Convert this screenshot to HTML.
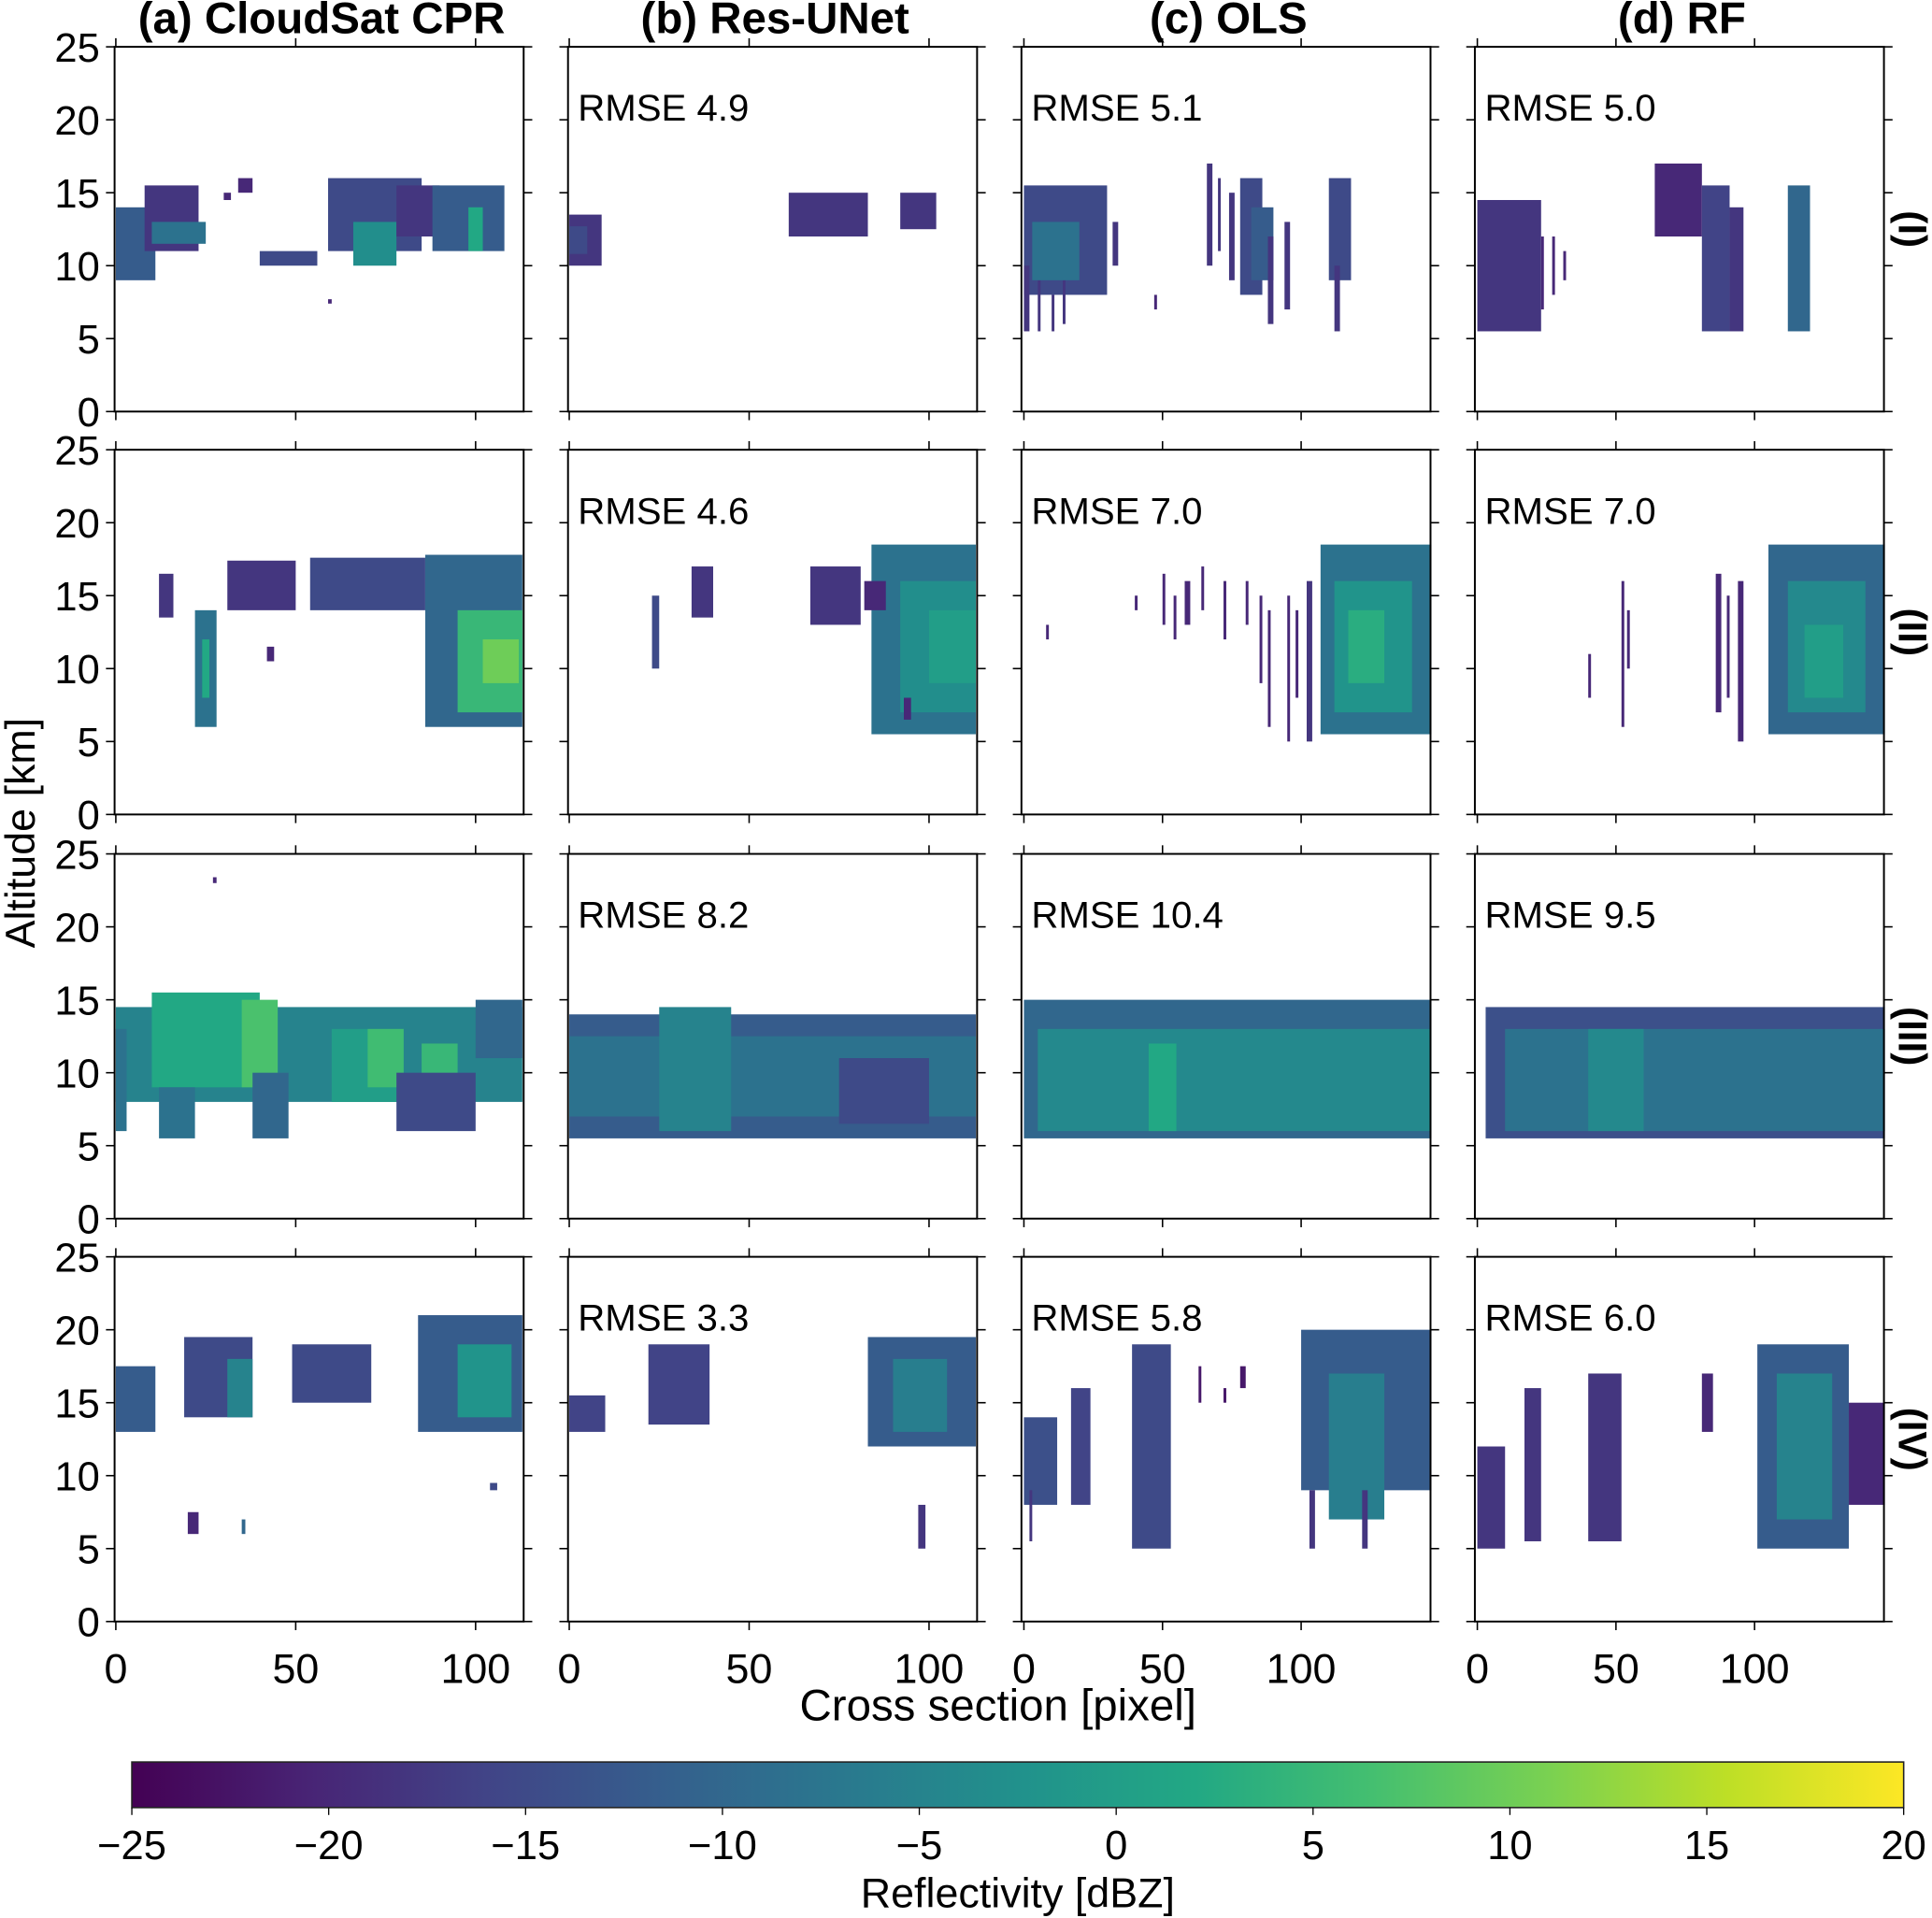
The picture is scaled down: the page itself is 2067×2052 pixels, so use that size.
<!DOCTYPE html>
<html><head><meta charset="utf-8"><style>
html,body{margin:0;padding:0;background:#fff;}
svg{display:block;font-family:"Liberation Sans",sans-serif;}
</style></head><body>
<svg id="fig" width="2067" height="2052" viewBox="0 0 1568 1556.6" xmlns="http://www.w3.org/2000/svg">
<defs>
<linearGradient id="vir" x1="0" x2="1" y1="0" y2="0">
<stop offset="0" stop-color="#440154"/><stop offset="0.1" stop-color="#482475"/><stop offset="0.2" stop-color="#414487"/><stop offset="0.3" stop-color="#355f8d"/><stop offset="0.4" stop-color="#2a788e"/><stop offset="0.5" stop-color="#21918c"/><stop offset="0.6" stop-color="#22a884"/><stop offset="0.7" stop-color="#44bf70"/><stop offset="0.8" stop-color="#7ad151"/><stop offset="0.9" stop-color="#bddf26"/><stop offset="1" stop-color="#fde725"/>
</linearGradient>
</defs>
<g id="panels"></g>
<text transform="translate(28,676) rotate(-90)" text-anchor="middle" font-size="34">Altitude [km]</text>
<text x="810" y="1396" text-anchor="middle" font-size="36">Cross section [pixel]</text>
<rect x="107" y="1430" width="1438" height="37" fill="url(#vir)" stroke="#222" stroke-width="1.2"/>
<g id="cbticks"></g>
<text x="826" y="1548" text-anchor="middle" font-size="34">Reflectivity [dBZ]</text>
</svg>
<script>
const colTitles = ["(a) CloudSat CPR","(b) Res-UNet","(c) OLS","(d) RF"];
const rowLabels = ["(I)","(II)","(III)","(IV)"];
const rmse = [[null,"4.9","5.1","5.0"],[null,"4.6","7.0","7.0"],[null,"8.2","10.4","9.5"],[null,"3.3","5.8","6.0"]];
const yTicks = [0,5,10,15,20,25];
const xTicks = [0,50,100];
const cbTicks = [-25,-20,-15,-10,-5,0,5,10,15,20];
// blobs: [x0, x1, altBottom, altTop, dBZ]
const a1 = [[0,11,9,14,-12],[8,23,11,15.5,-18],[10,25,11.5,13,-8],[30,32,14.5,15,-20],[34,38,15,16,-20],[40,56,10,11,-15],[59,85,11,16,-15],[66,78,10,13,-3],[78,90,12,15.5,-18],[88,108,11,15.5,-12],[98,102,11,14,2],[59,60,7.4,7.7,-20]];
const b1 = [[0,9,10,13.5,-18],[61,83,12,15,-18],[92,102,12.5,15,-18],[0,5,10.8,12.7,-15]];
const c1 = [[0,30,8,15.5,-15],[0,2,5.5,10,-18],[5,6,5.5,9,-18],[10,11,5.5,8,-18],[14,15,6,9,-18],[3,20,9,13,-8],[32,34,10,13,-18],[47,48,7,8,-20],[66,68,10,17,-18],[70,71,11,16,-18],[74,76,9,15,-18],[78,86,8,16,-15],[82,90,9,14,-12],[88,90,6,12,-18],[94,96,7,13,-18],[110,118,9,16,-15],[112,114,5.5,10,-18]];
const d1 = [[0,23,5.5,14.5,-18],[23,24,7,12,-20],[27,28,8,12,-20],[31,32,9,11,-20],[64,81,12,17,-20],[81,91,5.5,15.5,-16],[91,96,5.5,14,-18],[112,120,5.5,15.5,-10]];
const a2 = [[12,16,13.5,16.5,-18],[22,28,6,14,-8],[24,26,8,12,2],[31,50,14,17.4,-18],[54,86,14,17.6,-15],[86,113,6,17.8,-10],[95,113,7,14,5],[102,112,9,12,10],[42,44,10.5,11.5,-20]];
const b2 = [[23,25,10,15,-15],[34,40,13.5,17,-18],[67,81,13,17,-18],[84,113,5.5,18.5,-8],[92,113,7,16,-3],[100,113,9,14,0],[93,95,6.5,8,-20],[82,88,14,16,-20]];
const c2 = [[107,147,5.5,18.5,-8],[112,140,7,16,-2],[117,130,9,14,3],[50,51,13,16.5,-20],[54,55,12,15,-20],[58,60,13,16,-20],[64,65,14,17,-20],[72,73,12,16,-20],[80,81,13,16,-20],[85,86,9,15,-20],[88,89,6,14,-20],[95,96,5,15,-20],[98,99,8,14,-20],[102,104,5,16,-18],[8,9,12,13,-20],[40,41,14,15,-20]];
const d2 = [[52,53,6,16,-20],[54,55,10,14,-20],[40,41,8,11,-20],[86,88,7,16.5,-20],[90,91,8,15,-20],[94,96,5,16,-20],[105,147,5.5,18.5,-10],[112,140,7,16,-4],[118,132,8,13,0]];
const a3 = [[0,113,8,14.5,-5],[10,40,9,15.5,2],[35,45,9,15,7],[38,48,5.5,10,-10],[12,22,5.5,9,-8],[60,80,8,13,0],[70,80,9,13,6],[85,95,9,12,5],[78,100,6,10,-15],[100,113,11,15,-10],[27,28,23,23.4,-20],[0,3,6,13,-8]];
const b3 = [[0,113,5.5,14,-12],[0,113,7,12.5,-8],[25,45,6,14.5,-5],[75,100,6.5,11,-15]];
const c3 = [[0,147,5.5,15,-10],[5,147,6,13,-4],[45,55,6,12,2]];
const d3 = [[3,147,5.5,14.5,-14],[10,147,6,13,-8],[40,60,6,13,-4]];
const a4 = [[0,11,13,17.5,-12],[19,38,14,19.5,-15],[31,38,14,18,-5],[49,71,15,19,-15],[84,113,13,21,-12],[95,110,14,19,-2],[20,23,6,7.5,-20],[35,36,6,7,-10],[104,106,9,9.5,-15]];
const b4 = [[0,10,13,15.5,-16],[22,39,13.5,19,-16],[83,113,12,19.5,-12],[90,105,13,18,-6],[97,99,5,8,-18]];
const c4 = [[0,12,8,14,-14],[2,3,5.5,9,-18],[17,24,8,16,-16],[39,53,5,19,-15],[100,147,9,20,-12],[110,130,7,17,-6],[103,105,5,9,-18],[122,124,5,9,-18],[63,64,15,17.5,-22],[72,73,15,16,-22],[78,80,16,17.5,-22]];
const d4 = [[0,10,5,12,-18],[17,23,5.5,16,-18],[40,52,5.5,17,-18],[81,85,13,17,-20],[101,134,5,19,-12],[108,128,7,17,-5],[134,147,8,15,-20]];
const blobs = [[a1,b1,c1,d1],[a2,b2,c2,d2],[a3,b3,c3,d3],[a4,b4,c4,d4]];

const NS = "http://www.w3.org/2000/svg";
const VIR = ["#440154","#482475","#414487","#355f8d","#2a788e","#21918c","#22a884","#44bf70","#7ad151","#bddf26","#fde725"];
function hex(h){return [1,3,5].map(i=>parseInt(h.substr(i,2),16));}
function viridis(v){let t=Math.max(0,Math.min(1,(v+25)/45))*10;let i=Math.min(9,Math.floor(t));let f=t-i;let a=hex(VIR[i]),b=hex(VIR[i+1]);return "rgb("+a.map((c,k)=>Math.round(c+(b[k]-c)*f)).join(",")+")";}
function mk(tag,attrs,parent){const e=document.createElementNS(NS,tag);for(const k in attrs)e.setAttribute(k,attrs[k]);parent.appendChild(e);return e;}
const colLeft=[93,461,829,1197], colW=332, rowTop=[38,365,693,1020], rowH=296;
const xZero=[94,462,831,1199], xPer=[2.92,2.92,2.25,2.25];
const root=document.getElementById("panels");
for(let r=0;r<4;r++){for(let c=0;c<4;c++){
  const L=colLeft[c],T=rowTop[r];
  const xs=v=>xZero[c]+v*xPer[c];
  const ys=v=>T+rowH-v*rowH/25;
  const g=mk("g",{},root);
  
  
  for(const b of blobs[r][c]){
    const rc=mk("rect",{x:xs(b[0]),y:ys(b[3]),width:Math.max(2,xs(b[1])-xs(b[0])),height:ys(b[2])-ys(b[3]),fill:viridis(b[4])},g);
    
    
  }
  const fr=mk("rect",{x:L,y:T,width:colW,height:rowH,fill:"none",stroke:"#000","stroke-width":1.5},g);
  
  
  for(const t of yTicks){const y=ys(t);
    mk("line",{x1:L-7,x2:L,y1:y,y2:y,stroke:"#000","stroke-width":1.2},g);
    mk("line",{x1:L+colW,x2:L+colW+7,y1:y,y2:y,stroke:"#000","stroke-width":1.2},g);
    if(c===0){const tx=mk("text",{x:L-12,y:y+12,"text-anchor":"end","font-size":33},g);tx.textContent=t;
      
      }
  }
  for(const t of xTicks){const x=xs(t);
    mk("line",{x1:x,x2:x,y1:T-7,y2:T,stroke:"#000","stroke-width":1.2},g);
    mk("line",{x1:x,x2:x,y1:T+rowH,y2:T+rowH+7,stroke:"#000","stroke-width":1.2},g);
    if(r===3){const tx=mk("text",{x:x,y:1366,"text-anchor":"middle","font-size":34},g);tx.textContent=t;
      
      }
  }
  if(rmse[r][c]){const tx=mk("text",{x:L+8,y:T+60,"font-size":30.5},g);tx.textContent="RMSE "+rmse[r][c];
    
    }
  if(r===0){const tx=mk("text",{x:L+colW/2+2,y:27,"text-anchor":"middle","font-size":36,"font-weight":"bold"},g);tx.textContent=colTitles[c];
    
    }
  if(c===3){const tx=mk("text",{transform:"translate(1541,"+(T+rowH/2)+") rotate(90)","text-anchor":"middle","font-size":32,"font-weight":"bold"},g);tx.textContent=rowLabels[r];
    
    }
}}
const cg=document.getElementById("cbticks");
for(const t of cbTicks){const x=107+(t+25)/45*1438;
  mk("line",{x1:x,x2:x,y1:1467,y2:1473,stroke:"#000","stroke-width":1},cg);
  const tx=mk("text",{x:x,y:1509,"text-anchor":"middle","font-size":33},cg);
  tx.textContent=(t<0?"\u2212"+(-t):t);
  
  
}
</script>
</body></html>
